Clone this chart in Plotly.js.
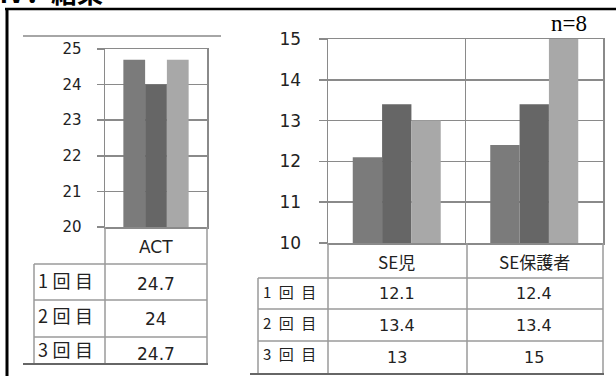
<!DOCTYPE html>
<html>
<head>
<meta charset="utf-8">
<script src="https://cdn.plot.ly/plotly-3.0.1.min.js"></script>
<style>html,body{margin:0;padding:0;background:#fff;}#chart{width:616px;height:376px;}</style>
</head>
<body>
<div id="chart"></div>
<script>
// ---- data ----
const roundNames = ['1回目', '2回目', '3回目'];
const actCats = ['ACT'];
const actRound1 = [24.7];
const actRound2 = [24];
const actRound3 = [24.7];
const seCats = ['SE児', 'SE保護者'];
const seRound1 = [12.1, 12.4];
const seRound2 = [13.4, 13.4];
const seRound3 = [13, 15];
const actTicks = [20, 21, 22, 23, 24, 25];
const seTicks = [10, 11, 12, 13, 14, 15];
const titleText = 'Ⅳ．結果';
const nText = 'n=8';

// ---- layout helpers ----
const W = 616, H = 376;
const px = x => x / W;
const py = y => 1 - y / H;
const colors = ['#7b7b7b', '#666666', '#a8a8a8'];
const gridC = '#8a8a8a';
const tableC = '#9a9a9a';
const txtC = '#222222';
const cjk = 'Noto Sans CJK JP, DejaVu Sans, sans-serif';
const latin = 'DejaVu Sans, sans-serif';
const spaced = (s, sp) => s.split('').join(sp);

const actSeries = [actRound1, actRound2, actRound3];
const seSeries = [seRound1, seRound2, seRound3];

const traces = [];
actSeries.forEach((vals, i) => traces.push({
  type: 'bar', x: actCats, y: vals, name: roundNames[i], xaxis: 'x', yaxis: 'y',
  marker: {color: colors[i], line: {width: 0}}, showlegend: false, hoverinfo: 'skip'
}));
seSeries.forEach((vals, i) => traces.push({
  type: 'bar', x: seCats, y: vals, name: roundNames[i], xaxis: 'x2', yaxis: 'y2',
  marker: {color: colors[i], line: {width: 0}}, showlegend: false, hoverinfo: 'skip'
}));

const line = (x0, y0, x1, y1, color, width) => ({
  type: 'line', xref: 'paper', yref: 'paper',
  x0: px(x0), y0: py(y0), x1: px(x1), y1: py(y1),
  line: {color: color, width: width}, layer: 'above'
});

const shapes = [
  // outer frame
  line(5, 9, 616, 9, '#000', 2.5),
  line(7, 8, 7, 376, '#000', 3),
  // left chart frame lines
  line(23, 36, 221, 36, '#888', 1.5),
  line(23, 364, 208, 364, '#666', 2),
  // left table
  line(34, 264, 207, 264, tableC, 1.5),
  line(34, 300, 207, 300, tableC, 1.5),
  line(34, 337, 207, 337, tableC, 1.5),
  line(34, 264, 34, 363, tableC, 1.5),
  line(105, 227, 105, 363, tableC, 1.5),
  line(207, 227, 207, 363, tableC, 1.5),
  // right table
  line(250, 374, 604, 374, '#666', 2),
  line(258, 278, 603, 278, tableC, 1.5),
  line(258, 309, 603, 309, tableC, 1.5),
  line(258, 341, 603, 341, tableC, 1.5),
  line(258, 278, 258, 373, tableC, 1.5),
  line(328, 243, 328, 373, tableC, 1.5),
  line(467, 243, 467, 373, tableC, 1.5),
  line(603, 243, 603, 373, tableC, 1.5)
];

const annotations = [];
annotations.push({
  text: '<b>' + titleText + '</b>', xref: 'paper', yref: 'paper', x: px(-3), y: py(12),
  xanchor: 'left', yanchor: 'bottom', showarrow: false,
  font: {family: cjk, size: 26, color: '#000'}
});
annotations.push({
  text: nText, xref: 'paper', yref: 'paper', x: px(569), y: py(23),
  xanchor: 'center', yanchor: 'middle', showarrow: false,
  font: {family: 'Liberation Serif, serif', size: 23, color: '#000'}
});

// left table text
const leftHeadY = [280, 315, 349];
const leftValY = [284, 319, 354];
actCats.forEach(c => annotations.push({
  text: c, xref: 'x', yref: 'paper', x: c, y: py(247), showarrow: false,
  xanchor: 'center', yanchor: 'middle', font: {family: latin, size: 17, color: txtC}
}));
roundNames.forEach((r, i) => {
  annotations.push({
    text: spaced(r, '\u2005'), xref: 'paper', yref: 'paper', x: px(36), y: py(leftHeadY[i]), showarrow: false,
    xanchor: 'left', yanchor: 'middle', font: {family: cjk, size: 18, color: txtC}
  });
  actCats.forEach((c, j) => annotations.push({
    text: String(actSeries[i][j]), xref: 'x', yref: 'paper', x: c, y: py(leftValY[i]),
    showarrow: false, xanchor: 'center', yanchor: 'middle',
    font: {family: latin, size: 17, color: txtC}
  }));
});

// right table text
const rightHeadY = [291, 322, 353];
const rightValY = [293, 325, 357];
seCats.forEach(c => annotations.push({
  text: c, xref: 'x2', yref: 'paper', x: c, y: py(261), showarrow: false,
  xanchor: 'center', yanchor: 'middle', font: {family: cjk, size: 17, color: txtC}
}));
roundNames.forEach((r, i) => {
  annotations.push({
    text: spaced(r, '\u2002'), xref: 'paper', yref: 'paper', x: px(261), y: py(rightHeadY[i]), showarrow: false,
    xanchor: 'left', yanchor: 'middle', font: {family: cjk, size: 15, color: txtC}
  });
  seCats.forEach((c, j) => annotations.push({
    text: String(seSeries[i][j]), xref: 'x2', yref: 'paper', x: c, y: py(rightValY[i]),
    showarrow: false, xanchor: 'center', yanchor: 'middle',
    font: {family: latin, size: 16, color: txtC}
  }));
});

const axisCommon = {
  showline: true, mirror: true, linecolor: gridC, linewidth: 1.5,
  zeroline: false, fixedrange: true
};

const layout = {
  width: W, height: H,
  margin: {l: 0, r: 0, t: 0, b: 0},
  paper_bgcolor: '#fff', plot_bgcolor: '#fff',
  barmode: 'group', bargap: 0.36, bargroupgap: 0,
  showlegend: false,
  xaxis: Object.assign({}, axisCommon, {
    domain: [px(105), px(207)], anchor: 'y', type: 'category',
    showticklabels: false, ticks: '', showgrid: false
  }),
  yaxis: Object.assign({}, axisCommon, {
    domain: [py(227), py(49)], anchor: 'x', range: [20, 25],
    tickvals: actTicks, ticktext: actTicks.map(String),
    ticks: 'outside', ticklen: 7, tickcolor: gridC, tickwidth: 1.5,
    ticklabelstandoff: 12,
    showgrid: true, gridcolor: gridC, gridwidth: 1.5,
    tickfont: {family: latin, size: 15, color: txtC}
  }),
  xaxis2: Object.assign({}, axisCommon, {
    domain: [px(328), px(603)], anchor: 'y2', type: 'category',
    showticklabels: false, ticks: '', tickson: 'boundaries',
    showgrid: true, gridcolor: gridC, gridwidth: 1.5
  }),
  yaxis2: Object.assign({}, axisCommon, {
    domain: [py(243), py(39)], anchor: 'x2', range: [10, 15],
    tickvals: seTicks, ticktext: seTicks.map(String),
    ticks: 'outside', ticklen: 8, tickcolor: gridC, tickwidth: 1.5,
    ticklabelstandoff: 14,
    showgrid: true, gridcolor: gridC, gridwidth: 1.5,
    tickfont: {family: latin, size: 17, color: txtC}
  }),
  shapes: shapes,
  annotations: annotations
};

Plotly.newPlot('chart', traces, layout, {staticPlot: true, displayModeBar: false});
</script>
</body>
</html>
